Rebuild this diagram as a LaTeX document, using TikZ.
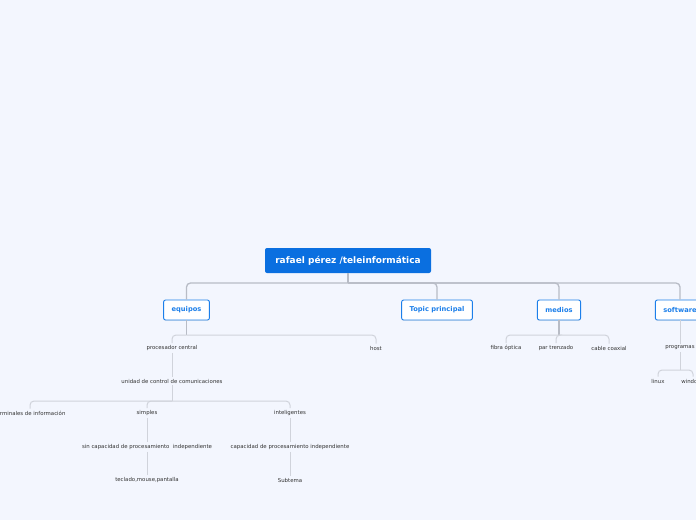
\documentclass[tikz,border=0pt]{standalone}
\usepackage{fontspec}
\setmainfont{DejaVu Sans}
\usetikzlibrary{calc,shadows}
\definecolor{bgc}{HTML}{F3F6FE}
\definecolor{rootc}{HTML}{0A6FE0}
\definecolor{topicc}{HTML}{1C7FEA}
\definecolor{linec}{HTML}{B8BCC6}
\definecolor{sublinec}{HTML}{D0D3DB}
\definecolor{txtc}{HTML}{333333}
\begin{document}
\begin{tikzpicture}[x=1pt,y=-1pt,
 rootbox/.style={fill=rootc, text=white, rounded corners=2pt, minimum width=166pt, minimum height=25pt, font=\fontsize{9}{11}\selectfont\bfseries, inner sep=0pt},
 topicbox/.style={fill=white, draw=topicc, line width=0.9pt, text=topicc, rounded corners=2pt, minimum height=20pt, font=\fontsize{6.7}{8}\selectfont\bfseries, inner xsep=8pt, drop shadow={opacity=0.15, shadow xshift=0pt, shadow yshift=-0.8pt}},
 sub/.style={text=txtc, font=\fontsize{5.4}{6.5}\selectfont, inner sep=2pt},
 conn/.style={draw=linec, line width=1.3pt, rounded corners=4pt},
 subconn/.style={draw=sublinec, line width=1pt, rounded corners=4pt}]
\clip (0,0) rectangle (696,520);
\useasboundingbox (0,0) rectangle (696,520);
\fill[bgc] (0,0) rectangle (696,520);

\node[rootbox] (root) at (348,260.5) {rafael pérez /teleinformática};
\node[topicbox] (equipos) at (186.5,310) {equipos};
\node[topicbox] (topic) at (437,310) {Topic principal};
\node[topicbox] (medios) at (559,310) {medios};
\node[topicbox] (software) at (680,310) {software};

\node[sub] (proc) at (172,348) {procesador central};
\node[sub] (host) at (376,348) {host};
\node[sub] (ucc) at (172,381) {unidad de control de comunicaciones};
\node[sub] (term) at (30,413) {terminales de información};
\node[sub] (simp) at (147,413) {simples};
\node[sub] (intel) at (290,413) {inteligentes};
\node[sub] (sincap) at (147,447) {sin capacidad de procesamiento~ independiente};
\node[sub] (cap) at (290,447) {capacidad de procesamiento independiente};
\node[sub] (tecl) at (147,480) {teclado,mouse,pantalla};
\node[sub] (subt) at (290,480) {Subtema};
\node[sub] (fibra) at (506,348) {fibra óptica};
\node[sub] (par) at (556,348) {par trenzado};
\node[sub] (cable) at (609,348) {cable coaxial};
\node[sub] (prog) at (680,348) {programas};
\node[sub] (linux) at (658,381) {linux};
\node[sub] (win) at (693,381) {windows};

\coordinate (rb) at (348,283);
\coordinate (eb) at (186.5,335);
\coordinate (ub) at (172,401);
\coordinate (mb) at (559,335);
\coordinate (pb) at (680,370);

\draw[conn] (root.south) -- (rb);
\draw[conn] (rb) -| (equipos.north);
\draw[conn] (rb) -| (topic.north);
\draw[conn] (rb) -| (medios.north);
\draw[conn] (rb) -| (software.north);

\draw[conn] (equipos.south) -- (eb);
\draw[subconn] (eb) -| (proc.north);
\draw[subconn] (eb) -| (host.north);
\draw[subconn] (proc.south) -- (ucc.north);
\draw[subconn] (ucc.south) -- (ub);
\draw[subconn] (ub) -| (term.north);
\draw[subconn] (ub) -| (simp.north);
\draw[subconn] (ub) -| (intel.north);
\draw[subconn] (simp.south) -- (sincap.north);
\draw[subconn] (sincap.south) -- (tecl.north);
\draw[subconn] (intel.south) -- (cap.north);
\draw[subconn] (cap.south) -- (subt.north);

\draw[conn] (medios.south) -- (mb);
\draw[subconn] (mb) -| (fibra.north);
\draw[subconn] (mb) -| (par.north);
\draw[subconn] (mb) -| (cable.north);

\draw[subconn] (software.south) -- (prog.north);
\draw[subconn] (prog.south) -- (pb);
\draw[subconn] (pb) -| (linux.north);
\draw[subconn] (pb) -| (win.north);
\end{tikzpicture}
\end{document}
